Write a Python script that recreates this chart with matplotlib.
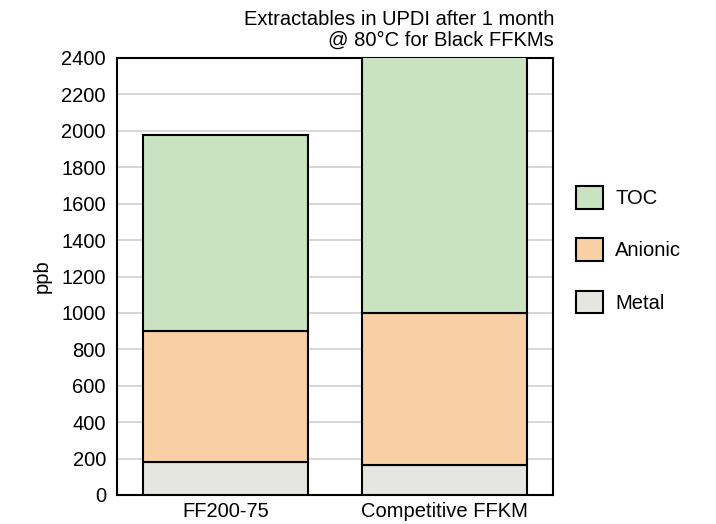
import matplotlib
matplotlib.use('Agg')
import matplotlib.pyplot as plt
import numpy as np

plt.rcParams['font.family'] = ['Liberation Sans', 'DejaVu Sans']

# data (ppb)
categories = ['FF200-75', 'Competitive FFKM']
metal = [180, 165]
anionic = [720, 835]
toc = [1075, 1500]   # second bar runs past the top of the axis

series_names = ['Metal', 'Anionic', 'TOC']
series_colors = ['#e6e6e0', '#f9cfa6', '#c9e3c1']
yticks = list(range(0, 2401, 200))

FS = 14.5


def main():
    fig = plt.figure(figsize=(7.16, 5.24), dpi=100)
    ax = fig.add_axes([117 / 716, 1 - 495 / 524, 436 / 716, 437 / 524])

    x = np.arange(len(categories))
    bottom = np.zeros(len(categories))
    bars = []
    for vals, name, col in zip([metal, anionic, toc], series_names, series_colors):
        b = ax.bar(x, vals, width=0.75, bottom=bottom, color=col,
                   edgecolor='black', linewidth=1.5, label=name, zorder=3)
        bars.append(b)
        bottom += np.array(vals)

    ax.set_xlim(-0.495, 1.495)
    ax.set_ylim(0, 2400)
    ax.set_yticks(yticks)
    ax.set_xticks(x)
    ax.set_xticklabels(categories)
    ax.tick_params(axis='both', length=0, labelsize=FS)
    ax.tick_params(axis='y', pad=8)
    ax.tick_params(axis='x', pad=5)
    ax.yaxis.grid(True, color='#d0d0d0', linewidth=1.2, zorder=0)
    ax.set_axisbelow(True)
    for s in ax.spines.values():
        s.set_linewidth(1.5)
        s.set_color('black')

    ax.set_ylabel('ppb', fontsize=FS, labelpad=7)
    fig.text(554 / 716, 1 - 10 / 524,
             'Extractables in UPDI after 1 month\n@ 80\u00b0C for Black FFKMs',
             ha='right', va='top', fontsize=FS, linespacing=1.1)

    handles = bars[::-1]
    labels = series_names[::-1]
    fig.legend(handles, labels, loc='upper left',
               bbox_to_anchor=(558 / 716, 1 - 168 / 524),
               frameon=False, fontsize=FS, handlelength=1.35, handleheight=1.35,
               labelspacing=1.47, handletextpad=0.6)

    fig.savefig('out.png', dpi=100)


if __name__ == "__main__":
    main()
